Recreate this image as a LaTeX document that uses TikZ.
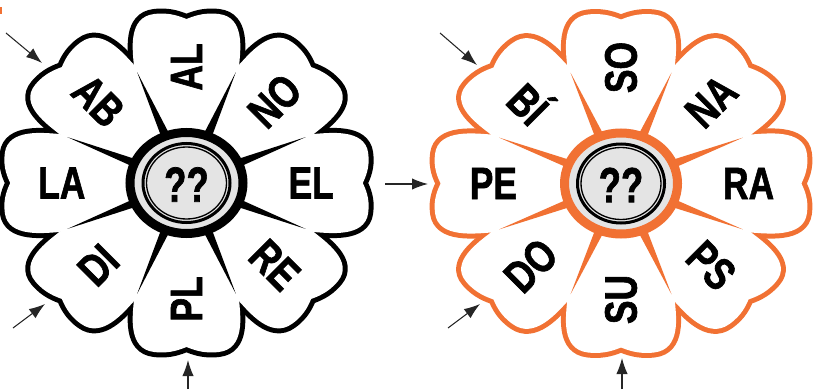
\documentclass[tikz,border=0pt]{standalone}
\usepackage{fontspec}
\setmainfont{Liberation Sans}
\newfontfamily\sylfont[UprightFont={* Bold}, FakeBold=1.6]{Liberation Sans}
\usetikzlibrary{arrows.meta}
\definecolor{petalorange}{RGB}{241,113,51}
\definecolor{hubgray}{RGB}{228,228,228}
\newcommand{\petalpath}{(40,-25) -- (118,-49) .. controls (132,-50) and (166,-55) .. (169,-30) .. controls (171,-15) and (166,-5) .. (164,0) .. controls (166,5) and (171,15) .. (169,30) .. controls (166,55) and (132,50) .. (118,49) -- (40,25) -- cycle}
\newcommand{\cond}[1]{\scalebox{0.78}[1]{#1}}

\begin{document}
\begin{tikzpicture}[
x=0.75pt,
y=0.75pt,
rim/.style={
  line width=7.5pt,
  line join=round
  },
syl/.style={
  font=\sylfont\fontsize{34pt}{34pt}\selectfont,
  inner sep=0pt
  },
hub/.style={
  line width=6.75pt,
  fill=hubgray
  },
eye/.style={
  draw=black,
  line width=2.25pt
  },
quiz/.style={
  font=\sylfont\fontsize{37pt}{37pt}\selectfont,
  inner sep=0pt
  },
arr/.style={
  ->,
  draw=black!85,
  line width=0.8pt
  },
>={Latex[length=12pt,width=8.5pt]}
]
\useasboundingbox (0,0) rectangle (816,390);
\fill[petalorange] (0,376) rectangle (1.5,383);

% left flower
\begin{scope}[shift={(186.5,207)}]
\begin{scope}[xscale=1.075]
\foreach \ang in {0,45,...,315}
  \draw[rim, black, rotate=\ang] \petalpath;
\foreach \ang in {0,45,...,315}
  \fill[white, rotate=\ang] \petalpath;
\foreach \ang in {22.5,67.5,...,337.5}
  \fill[black, rotate=\ang] (0,7) -- (120,0) -- (0,-7) -- cycle;
\foreach \ang/\rot/\txt [count=\i] in {90/90/AL,45/45/NO,0/0/EL,-45/-45/RE,-90/90/PL,-135/45/DI,180/0/LA,135/-45/AB}
  \node[syl, rotate=\rot] (l-\i) at (\ang:116) {\cond{\txt}};
\end{scope}
\draw[hub, draw=black] (0,0) ellipse [x radius=56.5, y radius=50.5];
\draw[eye] (0,0) ellipse [x radius=43.5, y radius=39.5];
\draw[black, line width=1pt] (0,0) ellipse [x radius=40, y radius=36];
\node[quiz] (lq) at (0,-1.5) {\scalebox{0.74}[1]{??}};
\end{scope}

% right flower
\begin{scope}[shift={(621,206.5)}]
\begin{scope}[xscale=1.1]
\foreach \ang in {0,45,...,315}
  \draw[rim, petalorange, rotate=\ang] \petalpath;
\foreach \ang in {0,45,...,315}
  \fill[white, rotate=\ang] \petalpath;
\foreach \ang in {22.5,67.5,...,337.5}
  \fill[petalorange, rotate=\ang] (0,7) -- (120,0) -- (0,-7) -- cycle;
\foreach \ang/\rot/\txt [count=\i] in {90/90/SO,45/45/NA,0/0/RA,-45/-45/PS,-90/90/SU,-135/45/DO,180/0/PE,135/-45/BÍ}
  \node[syl, rotate=\rot] (r-\i) at (\ang:116) {\cond{\txt}};
\end{scope}
\draw[hub, draw=petalorange] (0,0) ellipse [x radius=56.5, y radius=50.5];
\draw[eye] (0,0) ellipse [x radius=43.5, y radius=39.5];
\draw[black, line width=1pt] (0,0) ellipse [x radius=40, y radius=36];
\node[quiz] (rq) at (0,-1.5) {\scalebox{0.74}[1]{??}};
\end{scope}

% pointers
\coordinate (s1) at (6,357);   \coordinate (e1) at (42,327);
\coordinate (s2) at (13,62);   \coordinate (e2) at (45,86);
\coordinate (s3) at (188,1);   \coordinate (e3) at (188,30);
\coordinate (s4) at (440,357); \coordinate (e4) at (477,325);
\coordinate (s5) at (385,206); \coordinate (e5) at (428,206);
\coordinate (s6) at (448,62);  \coordinate (e6) at (480,86);
\coordinate (s7) at (622,1);   \coordinate (e7) at (622,32);
\foreach \i in {1,...,7}
  \draw[arr] (s\i) -- (e\i);
\end{tikzpicture}
\end{document}
